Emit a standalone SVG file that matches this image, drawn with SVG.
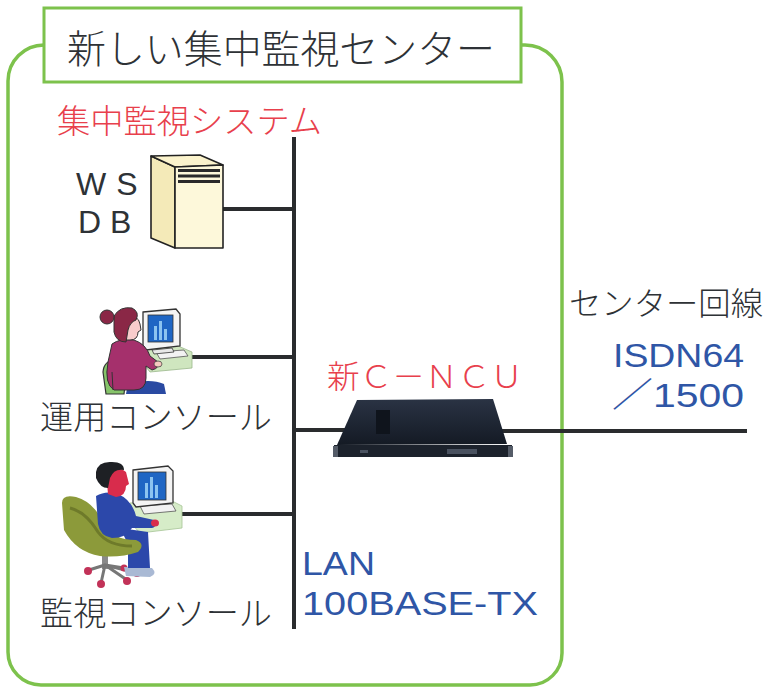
<svg xmlns="http://www.w3.org/2000/svg" width="768" height="687" viewBox="0 0 768 687">
  <style>
    .jp { font-family: "Noto Sans CJK JP", "Noto Sans", sans-serif; font-weight: 300; }
    .lat { font-family: "Liberation Sans", "Noto Sans CJK JP", sans-serif; }
    .dark { fill: #2e3236; }
    .red { fill: #e8404c; }
    .blue { fill: #2f56a6; }
    .frame { fill: none; stroke: #7dc24c; stroke-width: 3.5; }
    .wire { stroke: #2a2c2e; stroke-width: 4; fill: none; }
    .outline { stroke: #222; stroke-width: 1.6; stroke-linejoin: round; }
  </style>
  <defs>
    <linearGradient id="ncuTop" x1="0" y1="0" x2="0" y2="1">
      <stop offset="0" stop-color="#2a3344"/>
      <stop offset="1" stop-color="#141a24"/>
    </linearGradient>
  </defs>

  <rect width="768" height="687" fill="#ffffff"/>

  <!-- Center frame with title -->
  <g id="center-frame">
    <path class="frame" d="M44,45 A36,36 0 0 0 8,81 V652 A33,33 0 0 0 41,685 H530 A32,32 0 0 0 562,653 V82 A37,37 0 0 0 525,45 H521"/>
    <rect x="44" y="8" width="477" height="74" fill="#ffffff" stroke="#7dc24c" stroke-width="3"/>
    <text class="jp dark" x="67" y="63" font-size="39" textLength="428" lengthAdjust="spacingAndGlyphs">新しい集中監視センター</text>
  </g>

  <!-- Connectors: LAN bus and drops -->
  <g id="connectors">
    <line class="wire" x1="294" y1="137" x2="294" y2="629"/>
    <line class="wire" x1="223" y1="209" x2="294" y2="209"/>
    <line class="wire" x1="192" y1="357" x2="294" y2="357"/>
    <line class="wire" x1="182" y1="514" x2="294" y2="514"/>
    <line class="wire" x1="294" y1="430" x2="350" y2="430"/>
    <line class="wire" x1="500" y1="431" x2="747" y2="431"/>
  </g>

  <g id="system-label">
    <text class="jp red" x="57" y="133" font-size="33" textLength="265" lengthAdjust="spacingAndGlyphs">集中監視システム</text>
  </g>

  <!-- WS / DB server -->
  <g id="ws-db">
    <text class="lat dark" x="76" y="195" font-size="32" letter-spacing="10">WS</text>
    <text class="lat dark" x="78" y="233" font-size="32" letter-spacing="9">DB</text>
    <polygon class="outline" points="151,156 175,167 175,248 151,238" fill="#f4eab8"/>
    <polygon class="outline" points="151,156 200,155 223,165 175,167" fill="#fbf3cc"/>
    <polygon class="outline" points="175,167 223,165 223,248 175,248" fill="#fdf8da"/>
    <rect x="178" y="169" width="42" height="3" fill="#2a2a2a"/>
    <rect x="178" y="174.5" width="42" height="3" fill="#2a2a2a"/>
    <rect x="178" y="180" width="42" height="3" fill="#2a2a2a"/>
  </g>

  <!-- Operation console -->
  <g id="operation-console">
    <!-- desk and keyboard -->
    <polygon points="143,349 178,346 192,352 192,368 150,372 142,362" fill="#cfe6bf" stroke="#9bb88c" stroke-width="0.8"/>
    <polygon points="156,352 184,350 188,356 160,359" fill="#f2f2f2" stroke="#555" stroke-width="0.8"/>
    <!-- monitor -->
    <polygon points="143,312 176,309 180,314 180,346 146,350 143,346" fill="#f4f4f4" stroke="#333" stroke-width="1.3"/>
    <rect x="148" y="315" width="25" height="27" fill="#1f66c4" stroke="#333" stroke-width="0.8"/>
    <rect x="154" y="326" width="3" height="14" fill="#8cc4f0"/>
    <rect x="159" y="321" width="3" height="19" fill="#8cc4f0"/>
    <rect x="164" y="329" width="3" height="11" fill="#8cc4f0"/>
    <polygon points="152,350 172,348 174,352 154,354" fill="#e8e8e8" stroke="#333" stroke-width="0.8"/>
    <!-- chair back -->
    <path d="M103,372 Q104,360 116,360 Q128,362 126,376 L124,394 L106,394 Z" fill="#86c46a" stroke="#333" stroke-width="1.2"/>
    <!-- legs -->
    <path d="M128,384 Q150,378 164,384 L166,394 L126,394 Z" fill="#2a4aa2"/>
    <!-- sweater body -->
    <path d="M112,344 Q120,338 134,340 Q146,344 150,356 L158,362 Q160,368 152,370 L146,366 L146,378 Q146,390 134,390 L114,390 Q104,384 108,362 Z" fill="#a5306c" stroke="#333" stroke-width="1"/>
    <line x1="112" y1="372" x2="113" y2="390" stroke="#333" stroke-width="1"/>
    <!-- hand -->
    <ellipse cx="158" cy="364" rx="4" ry="3" fill="#f6c8c0" stroke="#333" stroke-width="0.7"/>
    <!-- face -->
    <path d="M128,318 Q138,314 140,324 L141,330 L138,332 Q138,340 130,340 L124,340 Z" fill="#f8cccc" stroke="#333" stroke-width="1"/>
    <!-- hair -->
    <path d="M114,316 Q120,306 132,308 Q140,312 136,320 Q130,322 128,330 L126,342 Q116,342 114,332 Z" fill="#8a2746" stroke="#333" stroke-width="1"/>
    <circle cx="107" cy="317" r="7" fill="#8a2746" stroke="#333" stroke-width="1"/>
  </g>
  <g id="operation-label">
    <text class="jp dark" x="40" y="429" font-size="33" textLength="232" lengthAdjust="spacingAndGlyphs">運用コンソール</text>
  </g>

  <!-- Monitoring console -->
  <g id="monitoring-console">
    <!-- desk -->
    <polygon points="130,503 170,500 182,506 182,528 140,533 128,520" fill="#d6ecc8" stroke="#a6c496" stroke-width="0.8"/>
    <polygon points="140,506 172,504 176,511 144,514" fill="#f2f2f2" stroke="#555" stroke-width="0.8"/>
    <!-- monitor -->
    <polygon points="133,470 168,466 173,471 173,503 136,507 133,503" fill="#f4f4f4" stroke="#333" stroke-width="1.3"/>
    <rect x="138" y="472" width="28" height="28" fill="#1f66c4" stroke="#333" stroke-width="0.8"/>
    <rect x="145" y="483" width="3" height="15" fill="#8cc4f0"/>
    <rect x="150" y="477" width="3" height="21" fill="#8cc4f0"/>
    <rect x="155" y="485" width="3" height="13" fill="#8cc4f0"/>
    <!-- chair base -->
    <rect x="102" y="552" width="6" height="17" fill="#8a8a8a"/>
    <path d="M89,570 L105,565 L127,580 M105,565 L101,583 M105,565 L137,573 M105,565 L124,568" stroke="#777" stroke-width="3" fill="none"/>
    <circle cx="88" cy="571" r="4" fill="#c23258"/>
    <circle cx="101" cy="584" r="4" fill="#c23258"/>
    <circle cx="127" cy="581" r="4" fill="#c23258"/>
    <circle cx="137" cy="573" r="4" fill="#c23258"/>
    <circle cx="124" cy="568" r="3.5" fill="#c23258"/>
    <!-- shoes and legs -->
    <path d="M124,567 L152,568 Q158,574 150,577 L126,576 Z" fill="#a9b9d4"/>
    <path d="M120,528 L148,532 L150,568 L128,568 L128,544 Z" fill="#2c48aa"/>
    <!-- chair seat and back -->
    <path d="M62,503 Q62,494 76,497 Q94,502 104,524 Q112,540 136,540 Q146,544 138,552 Q120,558 100,556 Q76,552 64,530 Z" fill="#8c9a3a"/>
    <path d="M70,508 Q86,512 98,532 Q108,546 132,546" stroke="#6e7a2a" stroke-width="3" fill="none"/>
    <!-- torso and arm -->
    <path d="M96,496 Q106,490 118,494 Q132,500 136,516 L154,520 Q158,526 152,528 L132,528 Q126,538 112,538 Q100,536 98,524 Z" fill="#2c48aa"/>
    <ellipse cx="155" cy="523" rx="4" ry="3.5" fill="#d82c4c"/>
    <!-- head -->
    <path d="M106,472 Q116,464 126,472 L129,484 L126,486 Q126,496 116,497 L108,494 Z" fill="#d82c4c"/>
    <path d="M96,472 Q98,461 112,462 Q124,462 124,470 Q114,468 110,478 L108,488 Q100,488 96,478 Z" fill="#1e2024"/>
  </g>
  <g id="monitoring-label">
    <text class="jp dark" x="40" y="625" font-size="33" textLength="232" lengthAdjust="spacingAndGlyphs">監視コンソール</text>
  </g>

  <!-- New C-NCU -->
  <g id="new-c-ncu">
    <text class="jp red" x="327" y="388" font-size="32" textLength="196" lengthAdjust="spacingAndGlyphs">新Ｃ－ＮＣＵ</text>
    <polygon points="357,400 493,399 507,444 337,445" fill="url(#ncuTop)"/>
    <rect x="334" y="445" width="178" height="12" fill="#1c222c"/>
    <rect x="333" y="446" width="5" height="11" fill="#555c68"/>
    <rect x="508" y="446" width="5" height="11" fill="#555c68"/>
    <rect x="376" y="410" width="14" height="24" fill="#0f141c"/>
    <rect x="447" y="449" width="30" height="5" fill="#4a5260"/>
    <rect x="360" y="450" width="8" height="3" fill="#4a5260"/>
  </g>

  <!-- Center line label -->
  <g id="center-line">
    <text class="jp dark" x="569" y="315" font-size="32" textLength="194" lengthAdjust="spacingAndGlyphs">センター回線</text>
    <text class="lat blue" x="613" y="367" font-size="34" textLength="131" lengthAdjust="spacingAndGlyphs">ISDN64</text>
    <text class="lat blue" x="612" y="407" font-size="34" textLength="132" lengthAdjust="spacingAndGlyphs">／1500</text>
  </g>

  <!-- LAN label -->
  <g id="lan">
    <text class="lat blue" x="302" y="575" font-size="34" textLength="73" lengthAdjust="spacingAndGlyphs">LAN</text>
    <text class="lat blue" x="302" y="615" font-size="34" textLength="236" lengthAdjust="spacingAndGlyphs">100BASE-TX</text>
  </g>
</svg>
